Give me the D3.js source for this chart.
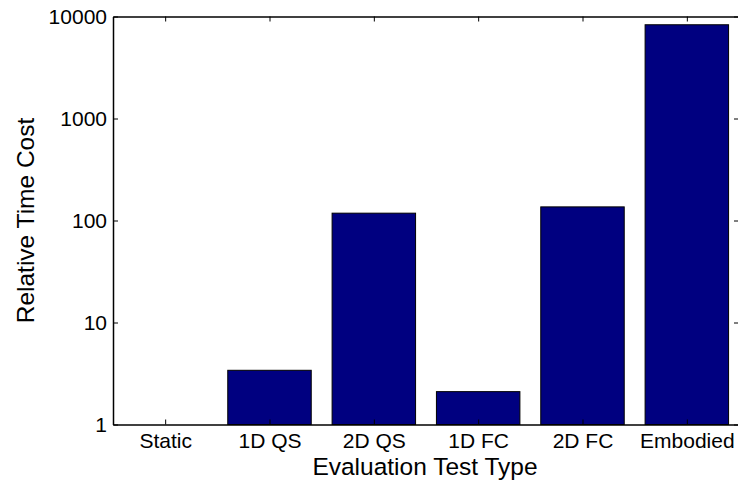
<!DOCTYPE html>
<html><head><meta charset="utf-8">
<script src="https://cdn.jsdelivr.net/npm/d3@7"></script>
<style>body{margin:0;background:#fff;} svg{display:block;}</style>
</head><body>
<svg id="c" width="738" height="484"></svg>
<script>
const categories = ["Static","1D QS","2D QS","1D FC","2D FC","Embodied"];
const values = [1, 3.4, 118, 2.1, 136, 8300];
const yTicks = [1, 10, 100, 1000, 10000];
const yTickLabels = ["1","10","100","1000","10000"];
const xTitle = "Evaluation Test Type";
const yTitle = "Relative Time Cost";

const svg = d3.select("#c");
const L = 113, R = 739, T = 16.5, B = 424.5;
const x = d3.scaleLinear().domain([0.5, 6.5]).range([L, R]);
const y = d3.scaleLog().domain([1, 10000]).range([B, T]);
const font = "Liberation Sans, Arial, sans-serif";
const tickFont = "21px", titleFont = "24.5px";

// bars
svg.append("g").selectAll("rect").data(values).join("rect")
  .attr("x", (d,i) => x(i+1-0.4))
  .attr("width", (d,i) => x(i+1+0.4) - x(i+1-0.4))
  .attr("y", d => y(d))
  .attr("height", d => B - y(d))
  .attr("fill", "#000080")
  .attr("stroke", "#000")
  .attr("stroke-width", 1);

// axes (box)
const axL = d3.axisLeft(y).tickValues(yTicks).tickFormat((d,i)=>yTickLabels[i]).tickSizeInner(-5).tickSizeOuter(0).tickPadding(6);
const axR = d3.axisRight(y).tickValues(yTicks).tickFormat("").tickSizeInner(-5).tickSizeOuter(0);
const axB = d3.axisBottom(x).tickValues(d3.range(1, categories.length+1)).tickFormat((d)=>categories[d-1]).tickSizeInner(-5).tickSizeOuter(0);
const axTop = d3.axisTop(x).tickValues(d3.range(1, categories.length+1)).tickFormat("").tickSizeInner(-5).tickSizeOuter(0);

function style(g){
  g.attr("font-size", null).attr("font-family", null);
  g.selectAll("path.domain").attr("stroke","#000").attr("stroke-width",1.5);
  g.selectAll(".tick line").attr("stroke","#000").attr("stroke-width",1);
  g.selectAll(".tick text").attr("fill","#000").style("font-family",font).style("font-size",tickFont);
}
svg.append("g").attr("transform",`translate(${L},0)`).call(axL).call(style);
svg.append("g").attr("transform",`translate(${R},0)`).call(axR).call(style);
const gB = svg.append("g").attr("transform",`translate(0,${B})`).call(axB).call(style);
gB.selectAll(".tick text").attr("y", 23).attr("dy", "0");
svg.append("g").attr("transform",`translate(0,${T})`).call(axTop).call(style);

svg.append("text").attr("x", 425).attr("y", 475)
  .attr("text-anchor","middle").style("font-family",font).style("font-size",titleFont).text(xTitle);
svg.append("text").attr("transform",`translate(34,${(T+B)/2}) rotate(-90)`)
  .attr("text-anchor","middle").style("font-family",font).style("font-size",titleFont).text(yTitle);
</script>
</body></html>
